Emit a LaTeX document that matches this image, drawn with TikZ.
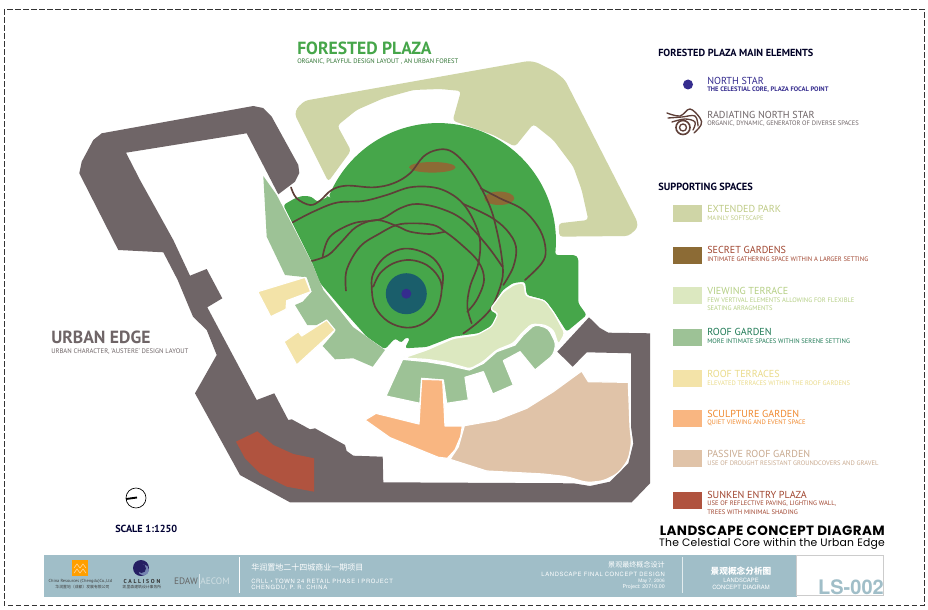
\documentclass[tikz,border=0pt]{standalone}
\usepackage{fontspec}
\setmainfont{PT Sans}
\newfontfamily\cjk{Noto Sans CJK SC}
\newfontfamily\wide{TeX Gyre Heros}
\newfontfamily\geo{Poppins}
\definecolor{wallc}{HTML}{6F6567}
\definecolor{parkc}{HTML}{CFD5A6}
\definecolor{plazac}{HTML}{46A64A}
\definecolor{secretc}{HTML}{8C6B35}
\definecolor{viewc}{HTML}{DCE8C0}
\definecolor{roofc}{HTML}{9DC296}
\definecolor{terrc}{HTML}{F3E3A8}
\definecolor{sculpc}{HTML}{F9B681}
\definecolor{passc}{HTML}{E0C3A8}
\definecolor{sunkc}{HTML}{B0533F}
\definecolor{pathc}{HTML}{5E3F38}
\definecolor{bandc}{HTML}{A0BEC8}
\definecolor{tealc}{HTML}{1A5E6B}
\definecolor{corec}{HTML}{352C8E}
\definecolor{parkt}{HTML}{BFCB86}
\definecolor{viewt}{HTML}{B5CF85}
\definecolor{rooft}{HTML}{1F7A55}
\definecolor{terrt}{HTML}{EADB8A}
\definecolor{sculpt}{HTML}{F08A30}
\definecolor{passt}{HTML}{C9AA90}
\definecolor{sunkt}{HTML}{A0452F}
\tikzset{
 area/.style={draw=white,line width=.9pt,line join=round},
 walk/.style={draw=pathc,line width=1.25pt,line cap=round},
 txt/.style={anchor=west,inner sep=0pt,font=\fontsize{#1}{#1}\selectfont},
 txt/.default=8,
 swatch/.style={minimum width=21.75pt,minimum height=12.75pt,inner sep=0pt,anchor=west},
 zsc/.style={shift={(#1)},scale=1/3},
}
\begin{document}
\begin{tikzpicture}[x=.75pt,y=-.75pt]
\useasboundingbox (0,0) rectangle (928,610);
\fill[white] (0,0) rectangle (928,610);
\draw[black!80,line width=.7pt,dash pattern=on 4pt off 2pt] (4.3,9.3) rectangle (924,605.7);
% park
\begin{scope}[zsc={280,30}]
\fill[parkc,rounded corners=2.5pt] (45,255) -- (50,235) -- (75,212) -- (745,93) -- (770,97) -- (825,125) -- (855,150) -- (1072,575) -- (1072,595) -- (1045,618) -- (838,620) -- (836,580) -- (925,570) -- (905,480) -- (880,410) -- (820,330) -- (760,282) -- (705,350) -- (640,315) -- (518,272) -- (543,183) -- (480,177) -- (400,180) -- (310,205) -- (230,240) -- (172,287) -- (213,362) -- (145,455) -- cycle;
\end{scope}
% urban edge
\fill[wallc,line join=round] (93.3,140) -- (101.7,133.3) -- (253.3,106) -- (263,108) -- (271.7,116.7) -- (298.3,165) -- (299.3,173) -- (295,181.7) -- (278.3,194.3) -- (246.7,133.3) -- (126,152.7) -- (140,180) -- (173.3,240) -- (190,275.7) -- (206.7,269) -- (222.3,298.3) -- (207.3,307.3) -- (256.7,400) -- (274.3,393.3) -- (288.3,420) -- (291.7,419.3) -- (310,429.3) -- (315,428.3) -- (345,445) -- (346.7,451) -- (353.3,455.7) -- (382.7,456.7) -- (383.3,482.3) -- (573.3,483.3) -- (590,486) -- (610,481.7) -- (628.3,463.3) -- (633.3,443.3) -- (631,426.7) -- (631,353.3) -- (586.7,352.3) -- (572.7,366.7) -- (557.3,351.7) -- (589,317.3) -- (600,328) -- (608.3,332.7) -- (650,333.3) -- (650,483.3) -- (631.7,502.3) -- (290,502.3) -- (240,475) -- (195,393.3) -- (216.7,355) -- (206.7,330) -- (193,316.7) -- (177.7,280) -- (163.3,252.3) -- (118.3,250) -- (79.3,173.3) -- (81.7,161.7) -- cycle;
% plaza
\fill[plazac,rounded corners=2pt] (283.3,205) -- (295,198.3) -- (303,195.7) -- (311.7,196.7) -- (316.7,201.7) -- (328.6,196.8) -- plot[domain=158:-5,samples=40] ({438+118*cos(\x)},{241-118*sin(\x)}) -- (555,255) -- (575,255) -- (578.3,258) -- (578.3,303.3) -- (586.7,315) -- (566.7,331.7) -- (555,313.3) -- (545,300) -- (526.7,295) -- (525,281.7) -- (513,283) -- (503,290) -- (490,310) -- (498,315) -- (493,325) -- (480,333) -- (453,336.7) -- (426.7,347) -- (405,348.3) -- (410,338) -- (405,337.7) -- (401.7,343) -- (395,338.3) -- (385,349.3) -- (366.7,336.7) -- (343,310) -- (320,283) -- (311.7,261.7) -- cycle;
% secret gardens
\fill[secretc] (432.3,167.3) ellipse [x radius=23.3,y radius=5.3];
\fill[secretc] (499.3,198.3) ellipse [x radius=15,y radius=6.7];
% core
\fill[tealc] (406.3,293.7) circle [radius=20.5];
\fill[corec] (406.3,293.7) circle [radius=5];
% radiating paths
\begin{scope}[zsc={260,130}]
\draw[walk] plot[smooth,tension=.6] coordinates {(93,172) (110,205) (150,225) (180,212) (215,180) (260,167) (340,172) (400,160) (450,130) (490,80) (530,60) (570,62) (610,95) (650,150) (690,230) (710,300) (725,380) (728,440) (710,500) (690,540) (650,580) (610,610)};
\draw[walk] plot[smooth,tension=.6] coordinates {(98,277) (160,245) (230,218) (310,213) (380,195) (450,172) (520,172) (570,190) (610,222) (640,270) (660,330) (655,400) (630,470) (622,530) (635,580)};
\draw[walk] plot[smooth,tension=.6] coordinates {(662,175) (720,205) (790,240) (840,300) (857,360) (845,400) (795,450)};
\draw[walk] plot[smooth,tension=.6] coordinates {(610,222) (690,260) (740,300) (768,350) (760,410) (730,465)};
\draw[walk] plot[smooth,tension=.6] coordinates {(155,393) (205,375) (245,335) (290,290) (350,270) (410,288) (450,305) (510,312) (555,305)};
\draw[walk] plot[smooth,tension=.6] coordinates {(258,482) (260,420) (300,350) (360,310) (410,285) (460,280) (520,285) (555,305) (600,340) (655,395) (672,450) (650,510) (622,545)};
\draw[walk] plot[smooth,tension=.6] coordinates {(188,380) (210,320) (280,280) (360,268) (420,235) (470,222) (540,235) (610,270) (680,345) (727,410)};
\draw[walk] plot[smooth,tension=.6] coordinates {(545,480) (548,430) (520,385) (470,360) (420,358) (370,385) (340,430) (335,470) (345,530) (385,575) (440,593) (490,580) (530,540) (545,480) (535,440) (500,405) (450,390) (400,400) (360,430) (340,470)};
\end{scope}
% lower areas
\begin{scope}[zsc={220,270}]
\filldraw[area,fill=roofc] (548,268) -- (620,275) -- (680,285) -- (748,300) -- (790,280) -- (830,245) -- (885,225) -- (910,195) [rounded corners=3pt] -- (945,163) -- (985,175) -- (1008,220) -- (1000,255) [sharp corners] -- (945,300) -- (900,245) -- (850,272) -- (880,345) -- (818,372) -- (790,305) -- (735,322) -- (745,390) -- (680,400) -- (670,330) -- (605,325) -- (600,400) -- (498,378) -- cycle;
\filldraw[area,fill=viewc,rounded corners=2.5pt] (555,262) -- (620,240) -- (700,205) -- (770,195) -- (815,170) -- (835,130) -- (810,118) -- (850,65) -- (885,42) -- (912,38) -- (917,78) -- (975,92) -- (1003,130) -- (1035,190) -- (1015,225) -- (1000,180) -- (975,165) -- (935,162) -- (905,190) -- (880,220) -- (830,240) -- (790,275) -- (750,297) -- (680,277) -- (620,268) -- (560,265) -- cycle;
\filldraw[area,fill=sculpc] (605,328) -- (668,330) -- (675,468) -- (727,468) -- (722,500) -- (705,540) -- (682,565) -- (655,562) -- (510,503) -- (435,450) -- (468,430) -- (597,462) -- cycle;
\filldraw[area,fill=passc] (733,467) -- (830,450) -- (920,415) -- (1000,365) -- (1085,303) -- (1105,335) -- (1225,337) -- (1230,470) [rounded corners=4pt] -- (1235,520) -- (1225,570) -- (1195,610) -- (1150,633) -- (1100,638) -- (1040,620) [sharp corners] -- (970,612) -- (800,603) -- (690,568) -- (715,530) -- cycle;
\fill[sunkc] (48,515) -- (112,484) -- (160,525) -- (220,552) -- (282,565) -- (282,665) -- (200,650) -- (120,610) -- (75,565) -- cycle;
\end{scope}
% west roof garden and terraces
\fill[roofc] (263.3,176) -- (276.7,195) -- (312,263) -- (323.3,290) -- (353,327) -- (385,350) -- (372.7,366.7) -- (353.3,358.3) -- (335,359.3) -- (322.7,346) -- (335,331.7) -- (326,320) -- (316.7,325) -- (307.3,325) -- (295,305) -- (302.7,301.7) -- (311.7,291.7) -- (306.7,277.3) -- (285,275) -- (266.7,236.7) -- cycle;
\filldraw[area,fill=terrc] (257.7,291.7) -- (305,277.3) -- (310.7,291.7) -- (286.7,300.7) -- (286,309.3) -- (270.7,316.7) -- cycle;
\filldraw[area,fill=terrc] (284,341.7) -- (298.3,331.7) -- (301.7,336) -- (326.7,320) -- (335,330) -- (296.7,365) -- cycle;
% north mark and titles
\draw[black,line width=.5pt] (136,498) circle [radius=10];
\draw[black,line width=1.4pt] (126,499) -- (137,497.5);
\node[txt=7.7,text=black!80!blue] (scale) at (115,528.5) {\textbf{SCALE 1:1250}};
\node[txt=13.2,text=plazac] (ft) at (297,48.5) {\textbf{FORESTED PLAZA}};
\node[txt=4.9,text=plazac!70!black] (fs) at (297,62) {ORGANIC, PLAYFUL DESIGN LAYOUT , AN URBAN FOREST};
\node[txt=13.2,text=wallc] (ut) at (51,337.5) {\textbf{URBAN EDGE}};
\node[txt=5,text=wallc] (us) at (51,351.5) {URBAN CHARACTER, 'AUSTERE' DESIGN LAYOUT};
% legend
\node[txt=7.7,text=black!85!blue] (h1) at (658,52.5) {\textbf{FORESTED PLAZA MAIN ELEMENTS}};
\node[txt=7.8,text=black!85!blue] (h2) at (658,187) {\textbf{SUPPORTING SPACES}};
\fill[corec] (688,84.5) circle [radius=5];
\begin{scope}[line width=1pt,pathc,line cap=round]
\draw plot[smooth,tension=.6] coordinates {(667,113) (680,116) (690,109) (700,118) (701,125) (694,133)};
\draw plot[smooth,tension=.6] coordinates {(668,118) (682,117) (695,116) (698,126)};
\draw plot[smooth,tension=.6] coordinates {(672,122) (685,119) (695,122) (693,130)};
\draw[line width=1.2pt] (683,127.5) circle [radius=7];
\draw[line width=1pt] (683,127.5) circle [radius=3.5];
\end{scope}
\node[txt=7.6,text=corec] (n1) at (707,81) {NORTH STAR};
\node[txt=4.9,text=corec] (n2) at (707,89.5) {\textbf{THE CELESTIAL CORE, PLAZA FOCAL POINT}};
\node[txt=7.6,text=wallc] (r1) at (707,114.5) {RADIATING NORTH STAR};
\node[txt=4.9,text=wallc] (r2) at (707,123.5) {ORGANIC, DYNAMIC, GENERATOR OF DIVERSE SPACES};
\node[swatch,fill=parkc] (s1) at (673,213.5) {};
\node[txt=7.6,text=parkt] at (707,209) {EXTENDED PARK};
\node[txt=4.9,text=parkt] at (707,218.5) {MAINLY SOFTSCAPE};
\node[swatch,fill=secretc] (s2) at (673,255) {};
\node[txt=7.6,text=sunkt] at (707,250) {SECRET GARDENS};
\node[txt=4.9,text=sunkt] at (707,259.5) {INTIMATE GATHERING SPACE WITHIN A LARGER SETTING};
\node[swatch,fill=viewc] (s3) at (673,295.5) {};
\node[txt=7.6,text=viewt] at (707,291) {VIEWING TERRACE};
\node[txt=4.9,text=viewt] at (707,300.5) {FEW VERTIVAL ELEMENTS ALLOWING FOR FLEXIBLE};
\node[txt=4.9,text=viewt] at (707,308.5) {SEATING ARRAGMENTS};
\node[swatch,fill=roofc] (s4) at (673,337) {};
\node[txt=7.6,text=rooft] at (707,332) {ROOF GARDEN};
\node[txt=4.9,text=rooft] at (707,341.5) {MORE INTIMATE SPACES WITHIN SERENE SETTING};
\node[swatch,fill=terrc] (s5) at (673,378) {};
\node[txt=7.6,text=terrt] at (707,373.5) {ROOF TERRACES};
\node[txt=4.9,text=terrt] at (707,383) {ELEVATED TERRACES WITHIN THE ROOF GARDENS};
\node[swatch,fill=sculpc] (s6) at (673,418) {};
\node[txt=7.6,text=sculpt] at (707,413.5) {SCULPTURE GARDEN};
\node[txt=4.9,text=sculpt] at (707,423) {QUIET VIEWING AND EVENT SPACE};
\node[swatch,fill=passc] (s7) at (673,458.5) {};
\node[txt=7.6,text=passt] at (707,454) {PASSIVE ROOF GARDEN};
\node[txt=4.9,text=passt] at (707,463.5) {USE OF DROUGHT RESISTANT GROUNDCOVERS AND GRAVEL};
\node[swatch,fill=sunkc] (s8) at (673,500) {};
\node[txt=7.6,text=sunkt] at (707,495) {SUNKEN ENTRY PLAZA};
\node[txt=4.9,text=sunkt] at (707,504) {USE OF REFLECTIVE PAVING, LIGHTING WALL,};
\node[txt=4.9,text=sunkt] at (707,512.5) {TREES WITH MINIMAL SHADING};
% titles
\node[inner sep=0pt,anchor=east,font=\geo\fontsize{10.1}{11}\selectfont\bfseries\addfontfeature{LetterSpace=3}] (t1) at (885,530.5) {LANDSCAPE CONCEPT DIAGRAM};
\node[inner sep=0pt,anchor=east,font=\geo\fontsize{8.1}{9}\selectfont\addfontfeature{LetterSpace=2}] (t2) at (885,543.5) {The Celestial Core within the Urban Edge};
% footer
\fill[bandc] (44,555) rectangle (796.5,596.5);
\draw[black!20,line width=.5pt] (796.5,555) rectangle (883,595.5);
\draw[white,line width=.4pt] (239,557) -- (239,593);
\draw[white!70!bandc,line width=.4pt] (682,557) -- (682,593);
\node[anchor=east,inner sep=0pt,font=\wide\bfseries\fontsize{15}{16}\selectfont,text=bandc] (ls) at (884,587) {LS-002};
% logos
\fill[orange!75!yellow] (72,560) rectangle (88,576);
\draw[white!80!orange,line width=.35pt] (74,568) -- (77,564) -- (80,568) -- (83,564) -- (86,568) (74,573) -- (77,569) -- (80,573) -- (83,569) -- (86,573);
\node[inner sep=0pt,font=\fontsize{3.3}{4}\selectfont,text=black!75] (c1) at (80.5,581) {China Resources (Chengdu)Co.,Ltd};
\node[inner sep=0pt,font=\cjk\fontsize{2.9}{4}\selectfont,text=black!75] (c2) at (82.5,587.5) {华润置地（成都）发展有限公司};
\fill[corec!70!black] (141,568) circle [radius=8];
\fill[bandc!60!corec] (143.5,570) circle [radius=5.5];
\fill[corec!70!black] (141.5,568.5) circle [radius=4.5];
\node[inner sep=0pt,font=\bfseries\fontsize{4.3}{5}\selectfont\addfontfeature{LetterSpace=30},text=black!80] (c3) at (142,581) {CALLISON};
\node[inner sep=0pt,font=\cjk\fontsize{2.9}{4}\selectfont,text=black!75] (c4) at (142,587.5) {凯里森建筑设计事务所};
\node[inner sep=0pt,font=\fontsize{7}{8}\selectfont,text=black!60] (c5) at (186,581) {EDAW};
\node[inner sep=0pt,font=\fontsize{7}{8}\selectfont,text=white!50!bandc] (c6) at (215,581) {AECOM};
\draw[white!60!bandc,line width=.3pt] (199,574) -- (199,588);
% footer text
\node[txt=6,text=white,font=\cjk\fontsize{6}{7}\selectfont] (p1) at (251,567.5) {华润置地二十四城商业一期项目};
\node[txt=4.4,text=white,font=\wide\fontsize{4.4}{5}\selectfont\addfontfeature{LetterSpace=12}] (p2) at (251,581) {CRLL • TOWN 24 RETAIL PHASE I PROJECT};
\node[txt=4.4,text=white,font=\wide\fontsize{4.4}{5}\selectfont\addfontfeature{LetterSpace=12}] (p3) at (251,587.5) {CHENGDU, P. R. CHINA};
\node[anchor=east,inner sep=0pt,font=\cjk\fontsize{5.3}{6}\selectfont,text=white] (q1) at (665,565) {景观最终概念设计};
\node[anchor=east,inner sep=0pt,font=\wide\fontsize{4.4}{5}\selectfont\addfontfeature{LetterSpace=10},text=white] (q2) at (665,574) {LANDSCAPE FINAL CONCEPT DESIGN};
\node[anchor=east,inner sep=0pt,font=\wide\fontsize{3.6}{4}\selectfont,text=white] (q3) at (665,581) {May 7, 2006};
\node[anchor=east,inner sep=0pt,font=\wide\fontsize{4}{4}\selectfont,text=white] (q4) at (665,587) {Project: 20710.00};
\node[inner sep=0pt,font=\cjk\bfseries\fontsize{6.5}{7}\selectfont,text=white] (r1b) at (741,571.5) {景观概念分析图};
\node[inner sep=0pt,font=\wide\fontsize{4.4}{5}\selectfont,text=white] (r2b) at (741,580.5) {LANDSCAPE};
\node[inner sep=0pt,font=\wide\fontsize{4.4}{5}\selectfont,text=white] (r3b) at (741,587) {CONCEPT DIAGRAM};
\end{tikzpicture}
\end{document}
